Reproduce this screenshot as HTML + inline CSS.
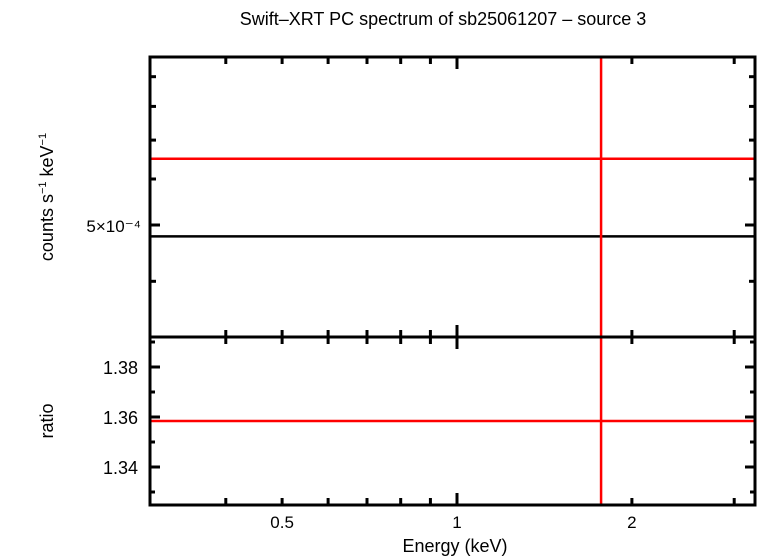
<!DOCTYPE html>
<html><head><meta charset="utf-8"><style>
body{margin:0;background:#fff;}
svg{display:block;font-family:"Liberation Sans",sans-serif;}
</style></head><body>
<svg id="chart" width="758" height="556" viewBox="0 0 758 556">
<text x="443" y="25" style="font-size:18px" text-anchor="middle">Swift–XRT PC spectrum of sb25061207 – source 3</text>
<text transform="translate(53,197) rotate(-90)" style="font-size:18px" text-anchor="middle">counts s<tspan style="font-size:11px" dy="-7">−1</tspan><tspan dy="7"> keV</tspan><tspan style="font-size:11px" dy="-7">−1</tspan></text>
<text transform="translate(53,421) rotate(-90)" style="font-size:18px" text-anchor="middle">ratio</text>
<text x="455" y="552" style="font-size:18px" text-anchor="middle">Energy (keV)</text>
<g id="marks"></g>
</svg>
<script>
const xTickValues=[0.4,0.5,0.6,0.7,0.8,0.9,1,2,3];
const xTickLabels=["0.5","1","2"];
const xLabelValues=[0.5,1,2];
const topMinorTicks=[4e-4,5e-4,6e-4,7e-4,8e-4,9e-4];
const topLabelValues=[5e-4];
const topLabels=["5×10⁻⁴"];
const ratioTicks=[1.33,1.34,1.35,1.36,1.37,1.38,1.39];
const ratioLabelValues=[1.34,1.36,1.38];
const ratioLabels=["1.34","1.36","1.38"];
const dataValue=[4.78e-4];
const modelValue=[6.5e-4];
const ratioValue=[1.3584];
const binEnergy=[1.77];

const L=150,R=755,T=57,M=337,B=505;
const X=e=>457+581*Math.log10(e);
const YT=v=>225-581*Math.log10(v/5e-4);
const YB=v=>417-2500*(v-1.36);
const g=document.getElementById('marks');
const NS='http://www.w3.org/2000/svg';
function el(t,a,name){const e=document.createElementNS(NS,t);for(const k in a)e.setAttribute(k,a[k]);


g.appendChild(e);return e;}
function line(x1,y1,x2,y2,c,w,name){return el('line',{x1,y1,x2,y2,stroke:c,'stroke-width':w},name);}
xTickValues.forEach(v=>{const x=X(v);const len=(v===1)?12:7;
line(x,T,x,T+len,'#000',3,'x-tick');line(x,M-len,x,M+len,'#000',3,'x-tick');line(x,B-len,x,B,'#000',3,'x-tick');});
xLabelValues.forEach((v,i)=>{const t=el('text',{x:X(v),y:528,style:'font-size:17px','text-anchor':'middle'},'x-tick-label');t.textContent=xTickLabels[i];});
topMinorTicks.forEach(v=>{const y=YT(v);const len=topLabelValues.includes(v)?10:6;line(L,y,L+len,y,'#000',3,'top-y-tick');line(R-len,y,R,y,'#000',3,'top-y-tick');});
topLabelValues.forEach((v,i)=>{const t=el('text',{x:141,y:YT(v)+7,style:'font-size:17px','text-anchor':'end'},'top-y-tick-label');t.textContent=topLabels[i];});
ratioTicks.forEach(v=>{const y=YB(v);const len=ratioLabelValues.some(r=>Math.abs(r-v)<1e-6)?10:5;line(L,y,L+len,y,'#000',3,'ratio-tick');line(R-len,y,R,y,'#000',3,'ratio-tick');});
ratioLabelValues.forEach((v,i)=>{const t=el('text',{x:138,y:YB(v)+7,style:'font-size:18px','text-anchor':'end'},'ratio-tick-label');t.textContent=ratioLabels[i];});
dataValue.forEach(v=>line(L,YT(v),R,YT(v),'#000',2.5,'data-bin'));
modelValue.forEach(v=>line(L,YT(v),R,YT(v),'#f00',2.5,'model-line'));
ratioValue.forEach(v=>line(L,YB(v),R,YB(v),'#f00',2.5,'ratio-bin'));
binEnergy.forEach(e=>{line(X(e),T,X(e),M,'#f00',2.5,'data-error-bar');line(X(e),M,X(e),B,'#f00',2.5,'ratio-error-bar');});
el('rect',{x:L,y:T,width:R-L,height:M-T,fill:'none',stroke:'#000','stroke-width':3},'top-panel-frame');
el('rect',{x:L,y:M,width:R-L,height:B-M,fill:'none',stroke:'#000','stroke-width':3},'ratio-panel-frame');
</script>
</body></html>
